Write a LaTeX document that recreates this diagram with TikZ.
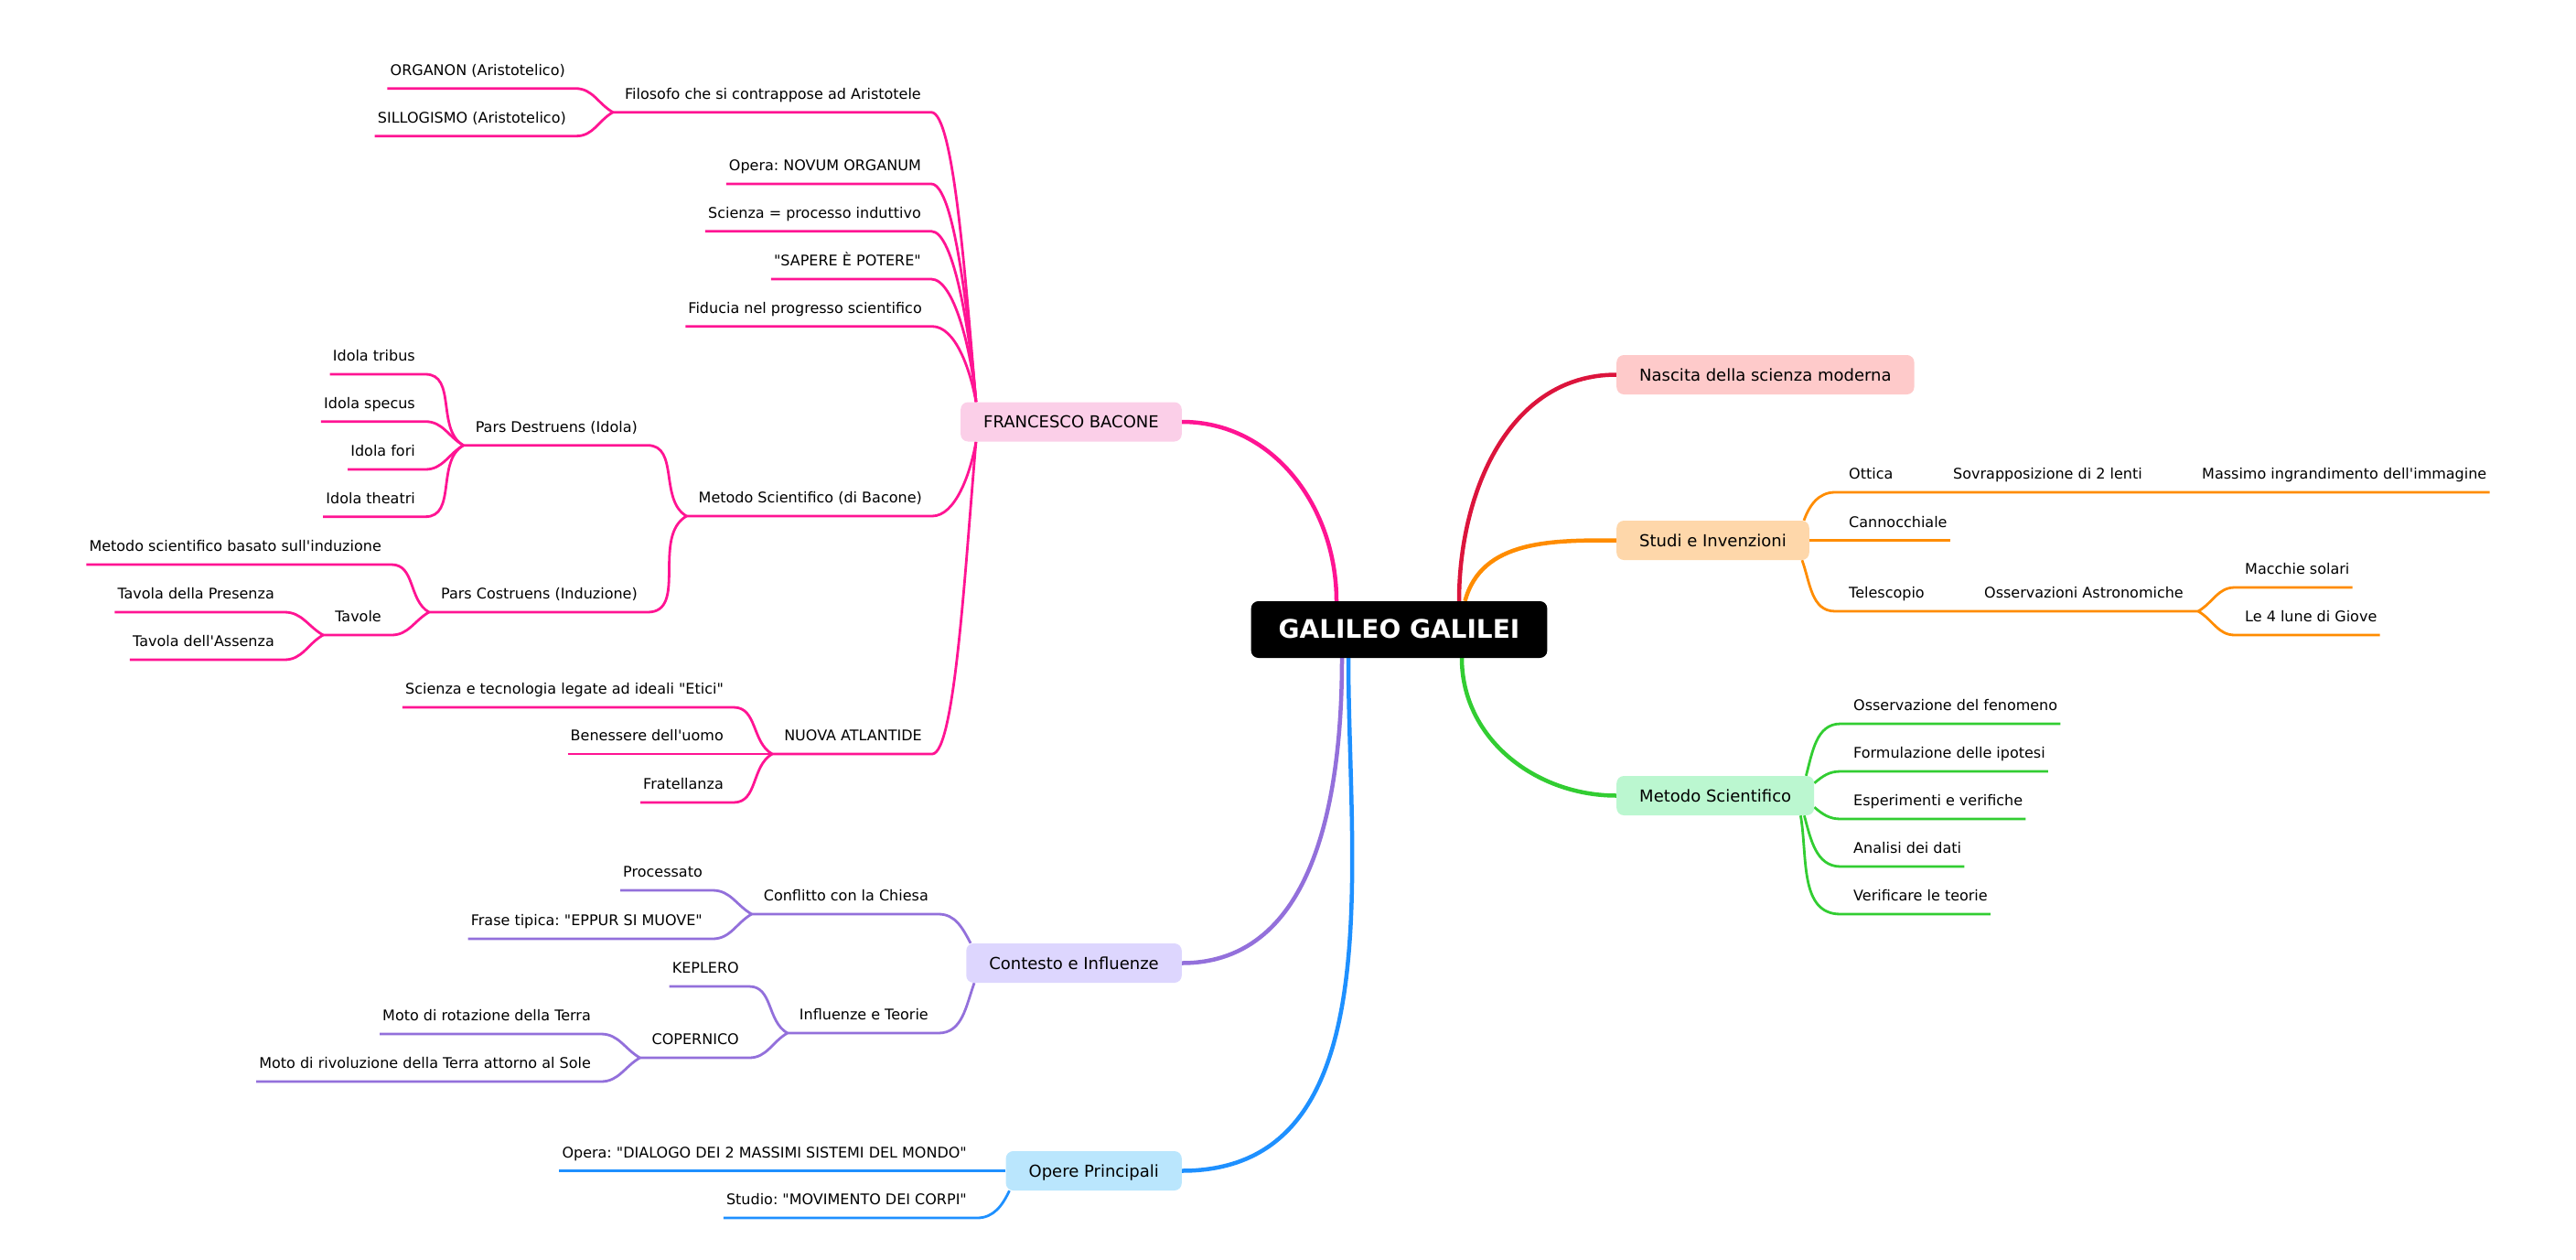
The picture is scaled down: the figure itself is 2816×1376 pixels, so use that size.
\documentclass[tikz,border=0pt]{standalone}
\usepackage{fontspec}
\setmainfont{DejaVu Sans}[Ligatures=TeXOff]
\usetikzlibrary{calc}
\definecolor{BacLine}{HTML}{FF1493}
\definecolor{BacFill}{HTML}{FBCFE8}
\definecolor{NasLine}{HTML}{DC143C}
\definecolor{NasFill}{HTML}{FECACA}
\definecolor{StuLine}{HTML}{FF8C00}
\definecolor{StuFill}{HTML}{FED7AA}
\definecolor{MetLine}{HTML}{32CD32}
\definecolor{MetFill}{HTML}{BBF7D0}
\definecolor{ConLine}{HTML}{9370DB}
\definecolor{ConFill}{HTML}{DDD6FE}
\definecolor{OpeLine}{HTML}{1E90FF}
\definecolor{OpeFill}{HTML}{BAE6FD}
\pgfdeclarelayer{bg}
\pgfsetlayers{bg,main}
\frenchspacing

\begin{document}
\begin{tikzpicture}[x=1pt, y=1pt,
    root/.style={fill=black, text=white, rounded corners=8pt, font=\fontsize{28}{32}\selectfont\bfseries,
        inner xsep=30pt, minimum height=62pt, text height=20pt, text depth=1.5pt},
    topic/.style={rounded corners=8pt, font=\fontsize{18}{22}\selectfont, inner xsep=25pt,
        minimum height=43pt, text height=13pt, text depth=0pt},
    leaf/.style={font=\fontsize{16}{19}\selectfont, inner xsep=3pt, inner ysep=0pt, text depth=14pt},
    leafL/.style={leaf, anchor=south east},
    leafR/.style={leaf, anchor=south west},
    branch/.style={line width=4.5pt},
    sub/.style={line width=2.8pt},
    fromabove/.style={out=0, in=150},
    frombelow/.style={out=0, in=210},
    toabove/.style={out=30, in=180},
    tobelow/.style={out=-30, in=180},
    tobox/.style={out=0, in=#1, out max distance=25pt}
]
\useasboundingbox (0,0) rectangle (2816,-1376);

\node[root] (galileo) at (1529.5,-688) {GALILEO GALILEI};

\node[topic, fill=BacFill, anchor=east] (bacone) at (1292,-461) {FRANCESCO BACONE};
\node[topic, fill=ConFill, anchor=east] (contesto) at (1292,-1052.5) {Contesto e Influenze};
\node[topic, fill=OpeFill, anchor=east] (opere) at (1292,-1279.5) {Opere Principali};
\node[topic, fill=NasFill, anchor=west] (nascita) at (1767,-409.5) {Nascita della scienza moderna};
\node[topic, fill=StuFill, anchor=west] (studi) at (1767,-590.5) {Studi e Invenzioni};
\node[topic, fill=MetFill, anchor=west] (metodo) at (1767,-869.5) {Metodo Scientifico};

\node[leafL] (filosofo) at (1010,-122.7) {Filosofo che si contrappose ad Aristotele};
\node[leafL] (organon) at (621,-96.7) {ORGANON (Aristotelico)};
\node[leafL] (sillog) at (622,-148.7) {SILLOGISMO (Aristotelico)};
\node[leafL] (novum) at (1010,-201) {Opera: NOVUM ORGANUM};
\node[leafL] (induttivo) at (1010,-252.7) {Scienza = processo induttivo};
\node[leafL] (sapere) at (1010,-305) {"SAPERE È POTERE"};
\node[leafL] (fiducia) at (1011,-356.7) {Fiducia nel progresso scientifico};
\node[leafL] (metbac) at (1011,-564) {Metodo Scientifico (di Bacone)};
\node[leafL] (destruens) at (700,-486.7) {Pars Destruens (Idola)};
\node[leafL] (tribus) at (457,-409) {Idola tribus};
\node[leafL] (specus) at (457,-460.7) {Idola specus};
\node[leafL] (fori) at (457,-513) {Idola fori};
\node[leafL] (theatri) at (457,-564.7) {Idola theatri};
\node[leafL] (costruens) at (700,-669) {Pars Costruens (Induzione)};
\node[leafL] (induzione) at (420,-617) {Metodo scientifico basato sull'induzione};
\node[leafL] (tavole) at (420,-694) {Tavole};
\node[leafL] (presenza) at (303,-669) {Tavola della Presenza};
\node[leafL] (assenza) at (303,-721) {Tavola dell'Assenza};
\node[leafL] (atlantide) at (1011,-824) {NUOVA ATLANTIDE};
\node[leafL] (etici) at (794,-773) {Scienza e tecnologia legate ad ideali "Etici"};
\node[leafL] (benessere) at (794,-824) {Benessere dell'uomo};
\node[leafL] (fratellanza) at (794,-877) {Fratellanza};

\node[leafL] (conflitto) at (1018,-999) {Conflitto con la Chiesa};
\node[leafL] (processato) at (771,-973) {Processato};
\node[leafL] (eppur) at (771,-1026) {Frase tipica: "EPPUR SI MUOVE"};
\node[leafL] (influenze) at (1018,-1129) {Influenze e Teorie};
\node[leafL] (keplero) at (811,-1078) {KEPLERO};
\node[leafL] (copernico) at (811,-1156) {COPERNICO};
\node[leafL] (rotazione) at (649,-1130) {Moto di rotazione della Terra};
\node[leafL] (rivoluzione) at (649,-1182) {Moto di rivoluzione della Terra attorno al Sole};

\node[leafL] (dialogo) at (1060,-1279.5) {Opera: "DIALOGO DEI 2 MASSIMI SISTEMI DEL MONDO"};
\node[leafL] (corpi) at (1060,-1331) {Studio: "MOVIMENTO DEI CORPI"};

\node[leafR] (ottica) at (2018,-538) {Ottica};
\node[leafR] (sovrap) at (2132,-538) {Sovrapposizione di 2 lenti};
\node[leafR] (massimo) at (2404,-538) {Massimo ingrandimento dell'immagine};
\node[leafR] (cannocchiale) at (2018,-590.5) {Cannocchiale};
\node[leafR] (telescopio) at (2018,-668) {Telescopio};
\node[leafR] (osserv) at (2166,-668) {Osservazioni Astronomiche};
\node[leafR] (macchie) at (2451,-642) {Macchie solari};
\node[leafR] (lune) at (2451,-694) {Le 4 lune di Giove};

\node[leafR] (fenomeno) at (2023,-791) {Osservazione del fenomeno};
\node[leafR] (ipotesi) at (2023,-843) {Formulazione delle ipotesi};
\node[leafR] (esperimenti) at (2023,-895) {Esperimenti e verifiche};
\node[leafR] (analisi) at (2023,-947) {Analisi dei dati};
\node[leafR] (teorie) at (2023,-999) {Verificare le teorie};

\begin{pgfonlayer}{bg}
\draw[branch, BacLine] ([xshift=-68.5]galileo.north) to[out=90, in=0] (bacone.east);
\draw[branch, NasLine] ([xshift=65.5]galileo.north) to[out=90, in=180] (nascita.west);
\draw[branch, StuLine] ([xshift=72]galileo.north) to[out=75, in=180] (studi.west);
\draw[branch, MetLine] ([xshift=68.5]galileo.south) to[out=-90, in=180] (metodo.west);
\draw[branch, ConLine] ([xshift=-62.5]galileo.south) to[out=-90, in=0] (contesto.east);
\draw[branch, OpeLine] ([xshift=-55.5]galileo.south) to[out=-90, in=0] (opere.east);

\draw[sub, BacLine] ([xshift=-10]filosofo.south west) -- ([xshift=8]filosofo.south east) to[tobox=95] ([xshift=17]bacone.north west);
\draw[sub, BacLine] (organon.south west) -- ([xshift=8]organon.south east) to[fromabove] ([xshift=-10]filosofo.south west);
\draw[sub, BacLine] (sillog.south west) -- ([xshift=8]sillog.south east) to[frombelow] ([xshift=-10]filosofo.south west);
\draw[sub, BacLine] (novum.south west) -- ([xshift=8]novum.south east) to[tobox=95] ([xshift=17]bacone.north west);
\draw[sub, BacLine] (induttivo.south west) -- ([xshift=8]induttivo.south east) to[tobox=95] ([xshift=17]bacone.north west);
\draw[sub, BacLine] (sapere.south west) -- ([xshift=8]sapere.south east) to[tobox=95] ([xshift=17]bacone.north west);
\draw[sub, BacLine] (fiducia.south west) -- ([xshift=8]fiducia.south east) to[tobox=100] ([xshift=17]bacone.north west);
\draw[sub, BacLine] ([xshift=-10]metbac.south west) -- ([xshift=8]metbac.south east) to[tobox=260] ([xshift=17]bacone.south west);
\draw[sub, BacLine] ([xshift=-10]destruens.south west) -- ([xshift=8]destruens.south east) to[fromabove] ([xshift=-10]metbac.south west);
\draw[sub, BacLine] (tribus.south west) -- ([xshift=8]tribus.south east) to[fromabove] ([xshift=-10]destruens.south west);
\draw[sub, BacLine] (specus.south west) -- ([xshift=8]specus.south east) to[fromabove] ([xshift=-10]destruens.south west);
\draw[sub, BacLine] (fori.south west) -- ([xshift=8]fori.south east) to[frombelow] ([xshift=-10]destruens.south west);
\draw[sub, BacLine] (theatri.south west) -- ([xshift=8]theatri.south east) to[frombelow] ([xshift=-10]destruens.south west);
\draw[sub, BacLine] ([xshift=-10]costruens.south west) -- ([xshift=8]costruens.south east) to[frombelow] ([xshift=-10]metbac.south west);
\draw[sub, BacLine] (induzione.south west) -- ([xshift=8]induzione.south east) to[fromabove] ([xshift=-10]costruens.south west);
\draw[sub, BacLine] ([xshift=-10]tavole.south west) -- ([xshift=8]tavole.south east) to[frombelow] ([xshift=-10]costruens.south west);
\draw[sub, BacLine] (presenza.south west) -- ([xshift=8]presenza.south east) to[fromabove] ([xshift=-10]tavole.south west);
\draw[sub, BacLine] (assenza.south west) -- ([xshift=8]assenza.south east) to[frombelow] ([xshift=-10]tavole.south west);
\draw[sub, BacLine] ([xshift=-10]atlantide.south west) -- ([xshift=8]atlantide.south east) to[tobox=265] ([xshift=17]bacone.south west);
\draw[sub, BacLine] (etici.south west) -- ([xshift=8]etici.south east) to[fromabove] ([xshift=-10]atlantide.south west);
\draw[sub, BacLine] (benessere.south west) -- ([xshift=-10]atlantide.south west);
\draw[sub, BacLine] (fratellanza.south west) -- ([xshift=8]fratellanza.south east) to[frombelow] ([xshift=-10]atlantide.south west);

\draw[sub, ConLine] ([xshift=-10]conflitto.south west) -- ([xshift=8]conflitto.south east) to[out=0, in=118] ([xshift=5]contesto.north west);
\draw[sub, ConLine] (processato.south west) -- ([xshift=8]processato.south east) to[fromabove] ([xshift=-10]conflitto.south west);
\draw[sub, ConLine] (eppur.south west) -- ([xshift=8]eppur.south east) to[frombelow] ([xshift=-10]conflitto.south west);
\draw[sub, ConLine] ([xshift=-10]influenze.south west) -- ([xshift=8]influenze.south east) to[out=0, in=250] ([xshift=9]contesto.south west);
\draw[sub, ConLine] (keplero.south west) -- ([xshift=8]keplero.south east) to[fromabove] ([xshift=-10]influenze.south west);
\draw[sub, ConLine] ([xshift=-10]copernico.south west) -- ([xshift=8]copernico.south east) to[frombelow] ([xshift=-10]influenze.south west);
\draw[sub, ConLine] (rotazione.south west) -- ([xshift=8]rotazione.south east) to[fromabove] ([xshift=-10]copernico.south west);
\draw[sub, ConLine] (rivoluzione.south west) -- ([xshift=8]rivoluzione.south east) to[frombelow] ([xshift=-10]copernico.south west);

\draw[sub, OpeLine] (dialogo.south west) -- (opere.west);
\draw[sub, OpeLine] (corpi.south west) -- ([xshift=8]corpi.south east) to[out=0, in=245] ([xshift=4]opere.south west);

\draw[sub, StuLine] ([xshift=-6]studi.north east) to[out=70, in=180] ([xshift=-12]ottica.south west) -- (ottica.south east)
    -- ([xshift=-10]sovrap.south west) -- (sovrap.south east) -- ([xshift=-10]massimo.south west) -- (massimo.south east);
\draw[sub, StuLine] (studi.east) -- (cannocchiale.south east);
\draw[sub, StuLine] ([xshift=-8]studi.south east) to[out=-70, in=180] ([xshift=-12]telescopio.south west) -- (telescopio.south east)
    -- ([xshift=-10]osserv.south west) -- ([xshift=13]osserv.south east);
\draw[sub, StuLine] ([xshift=13]osserv.south east) to[toabove] ([xshift=-8]macchie.south west) -- (macchie.south east);
\draw[sub, StuLine] ([xshift=13]osserv.south east) to[tobelow] ([xshift=-8]lune.south west) -- (lune.south east);

\draw[sub, MetLine] ([xshift=-9]metodo.north east) to[out=75, in=180] ([xshift=-11]fenomeno.south west) -- (fenomeno.south east);
\draw[sub, MetLine] ([yshift=-8]metodo.north east) to[out=40, in=180] ([xshift=-11]ipotesi.south west) -- (ipotesi.south east);
\draw[sub, MetLine] ([yshift=9]metodo.south east) to[out=-40, in=180] ([xshift=-11]esperimenti.south west) -- (esperimenti.south east);
\draw[sub, MetLine] ([xshift=-11]metodo.south east) to[out=-75, in=180] ([xshift=-11]analisi.south west) -- (analisi.south east);
\draw[sub, MetLine] ([xshift=-15]metodo.south east) to[out=-80, in=180] ([xshift=-11]teorie.south west) -- (teorie.south east);
\end{pgfonlayer}
\end{tikzpicture}
\end{document}
